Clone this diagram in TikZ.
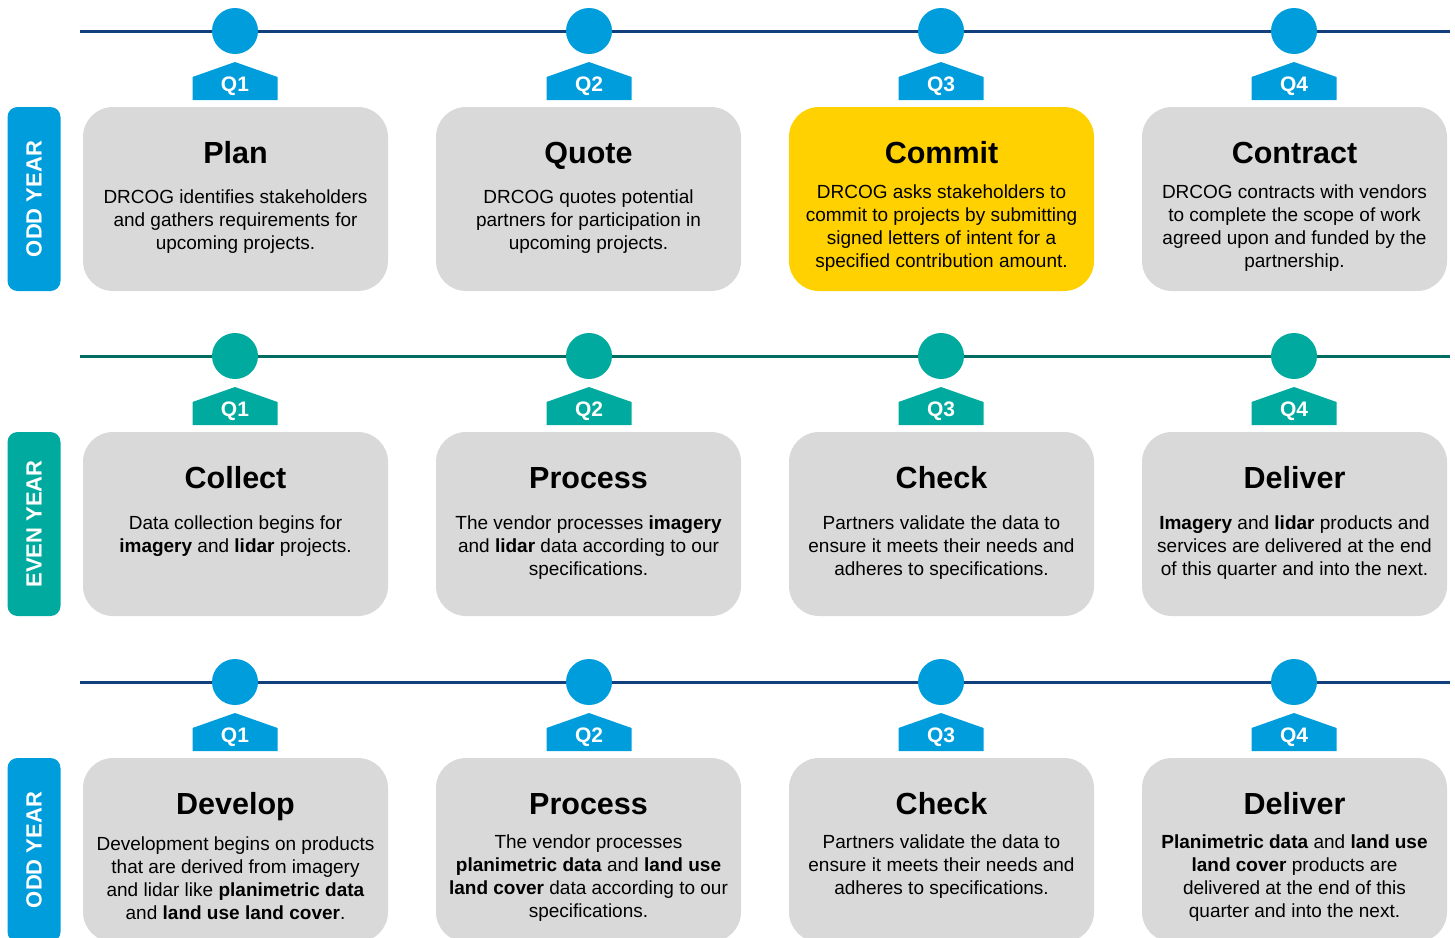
\documentclass[tikz,border=0pt]{standalone}
\usepackage{fontspec}
\setmainfont{Liberation Sans}
\usetikzlibrary{positioning}

\definecolor{oddblue}{RGB}{0,157,220}
\definecolor{oddline}{RGB}{18,64,124}
\definecolor{eventeal}{RGB}{0,170,158}
\definecolor{evenline}{RGB}{0,108,98}
\definecolor{boxgray}{RGB}{217,217,217}
\definecolor{commityellow}{RGB}{255,209,0}

\begin{document}
\begin{tikzpicture}[
	x=1pt, y=-1pt,
	stage/.style = {
		rectangle,
		rounded corners=30pt,
		fill=boxgray,
		minimum width=305pt,
		minimum height=184pt,
		inner sep=0pt
	},
	stagetitle/.style = {
		anchor=base,
		font=\fontsize{30.5}{36}\selectfont\bfseries
	},
	stagetext/.style = {
		align=center,
		inner sep=0pt,
		font=\fontsize{19}{23}\selectfont
	},
	dot/.style = {
		circle,
		fill=#1,
		minimum size=46pt,
		inner sep=0pt
	},
	qlabel/.style = {
		text=white,
		inner sep=0pt,
		font=\fontsize{21}{24}\selectfont\bfseries
	},
	yearbox/.style = {
		rectangle,
		rounded corners=10pt,
		fill=#1,
		rotate=90,
		minimum width=184pt,
		minimum height=53pt,
		text=white,
		font=\fontsize{22}{26}\selectfont\bfseries
	},
	timeline/.style = {
		draw=#1,
		line width=3pt
	},
]
	\useasboundingbox (0,0) rectangle (1455,937);

	% timelines
	\coordinate (oddaL) at (80,31);
	\coordinate (oddaR) at (1450,31);
	\coordinate (evenL) at (80,356);
	\coordinate (evenR) at (1450,356);
	\coordinate (oddbL) at (80,682);
	\coordinate (oddbR) at (1450,682);
	\draw[timeline=oddline] (oddaL) -- (oddaR);
	\draw[timeline=evenline] (evenL) -- (evenR);
	\draw[timeline=oddline] (oddbL) -- (oddbR);

	% quarter markers
	\foreach \row/\y/\col in {odda/31/oddblue, even/356/eventeal, oddb/682/oddblue} {
		\foreach \q/\x in {1/235, 2/589, 3/941, 4/1294} {
			\node (\row q\q) [dot=\col] at (\x,\y) {};
			\fill[\col] ([shift={(-42.5,69)}]\row q\q.center) -- ++(0,-23) -- ++(42.5,-15)
				-- ++(42.5,15) -- ++(0,23) -- cycle;
			\node (\row q\q lbl) [qlabel] at ([shift={(0,55.5)}]\row q\q.center) {Q\q};
		}
	}

	% year labels
	\node (oddayear) [yearbox=oddblue] at (34,199) {ODD YEAR};
	\node (evenyear) [yearbox=eventeal] at (34,524) {EVEN YEAR};
	\node (oddbyear) [yearbox=oddblue] at (34,850) {ODD YEAR};

	% odd year
	\node (plan) [stage] at (235.5,199) {};
	\node (plantitle) [stagetitle] at ([shift={(0,57)}]plan.north) {Plan};
	\node (plantext) [stagetext] at ([shift={(0,115)}]plan.north)
		{DRCOG identifies stakeholders\\and gathers requirements for\\upcoming projects.};

	\node (quote) [stage] at (588.5,199) {};
	\node (quotetitle) [stagetitle] at ([shift={(0,57)}]quote.north) {Quote};
	\node (quotetext) [stagetext] at ([shift={(0,115)}]quote.north)
		{DRCOG quotes potential\\partners for participation in\\upcoming projects.};

	\node (commit) [stage, fill=commityellow] at (941.5,199) {};
	\node (committitle) [stagetitle] at ([shift={(0,57)}]commit.north) {Commit};
	\node (committext) [stagetext] at ([shift={(0,121)}]commit.north)
		{DRCOG asks stakeholders to\\commit to projects by submitting\\signed letters of intent for a\\specified contribution amount.};

	\node (contract) [stage] at (1294.5,199) {};
	\node (contracttitle) [stagetitle] at ([shift={(0,57)}]contract.north) {Contract};
	\node (contracttext) [stagetext] at ([shift={(0,121)}]contract.north)
		{DRCOG contracts with vendors\\to complete the scope of work\\agreed upon and funded by the\\partnership.};

	% even year
	\node (collect) [stage] at (235.5,524) {};
	\node (collecttitle) [stagetitle] at ([shift={(0,57)}]collect.north) {Collect};
	\node (collecttext) [stagetext] at ([shift={(0,104.5)}]collect.north)
		{Data collection begins for\\\textbf{imagery} and \textbf{lidar} projects.};

	\node (processa) [stage] at (588.5,524) {};
	\node (processatitle) [stagetitle] at ([shift={(0,57)}]processa.north) {Process};
	\node (processatext) [stagetext] at ([shift={(0,116)}]processa.north)
		{The vendor processes \textbf{imagery}\\and \textbf{lidar} data according to our\\specifications.};

	\node (checka) [stage] at (941.5,524) {};
	\node (checkatitle) [stagetitle] at ([shift={(0,57)}]checka.north) {Check};
	\node (checkatext) [stagetext] at ([shift={(0,116)}]checka.north)
		{Partners validate the data to\\ensure it meets their needs and\\adheres to specifications.};

	\node (delivera) [stage] at (1294.5,524) {};
	\node (deliveratitle) [stagetitle] at ([shift={(0,57)}]delivera.north) {Deliver};
	\node (deliveratext) [stagetext] at ([shift={(0,116)}]delivera.north)
		{\textbf{Imagery} and \textbf{lidar} products and\\services are delivered at the end\\of this quarter and into the next.};

	% odd year again
	\node (develop) [stage] at (235.5,850) {};
	\node (developtitle) [stagetitle] at ([shift={(0,57)}]develop.north) {Develop};
	\node (developtext) [stagetext] at ([shift={(0,120.5)}]develop.north)
		{Development begins on products\\that are derived from imagery\\and lidar like \textbf{planimetric data}\\and \textbf{land use land cover}.};

	\node (processb) [stage] at (588.5,850) {};
	\node (processbtitle) [stagetitle] at ([shift={(0,57)}]processb.north) {Process};
	\node (processbtext) [stagetext] at ([shift={(0,120.5)}]processb.north)
		{The vendor processes\\\textbf{planimetric data} and \textbf{land use}\\\textbf{land cover} data according to our\\specifications.};

	\node (checkb) [stage] at (941.5,850) {};
	\node (checkbtitle) [stagetitle] at ([shift={(0,57)}]checkb.north) {Check};
	\node (checkbtext) [stagetext] at ([shift={(0,109)}]checkb.north)
		{Partners validate the data to\\ensure it meets their needs and\\adheres to specifications.};

	\node (deliverb) [stage] at (1294.5,850) {};
	\node (deliverbtitle) [stagetitle] at ([shift={(0,57)}]deliverb.north) {Deliver};
	\node (deliverbtext) [stagetext] at ([shift={(0,120.5)}]deliverb.north)
		{\textbf{Planimetric data} and \textbf{land use}\\\textbf{land cover} products are\\delivered at the end of this\\quarter and into the next.};
\end{tikzpicture}
\end{document}
